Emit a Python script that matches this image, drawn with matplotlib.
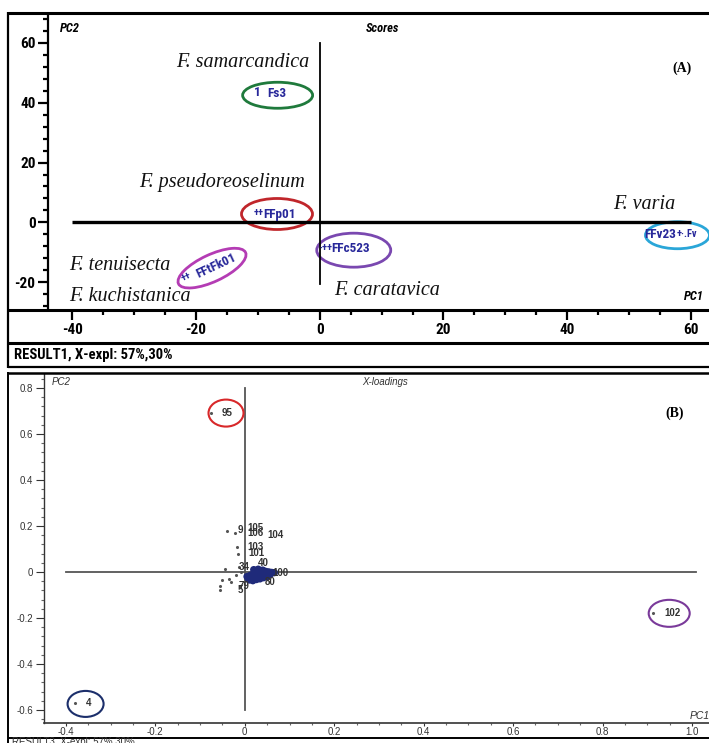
import matplotlib
matplotlib.use('Agg')
import matplotlib.pyplot as plt
from matplotlib.lines import Line2D
from matplotlib.patches import Ellipse
import matplotlib.transforms as mtransforms
from matplotlib.ticker import MultipleLocator

plt.rcParams['axes.unicode_minus'] = False

# ---------------- data: panel A (scores) ----------------
xticks_A = [-40, -20, 0, 20, 40, 60]
yticks_A = [-20, 0, 20, 40, 60]

samarc_x = [-10.0, -7.0]
samarc_y = [43.5, 43.0]
samarc_lab = ['1', 'Fs3']

pseudo_x = [-9.9, -6.5]
pseudo_y = [3.0, 2.6]
pseudo_lab = ['++', 'FFp01']

tenu_x = [-21.6, -16.8]
tenu_y = [-18.3, -14.6]
tenu_lab = ['++', 'FFtFk01']

carat_x = [1.0, 5.0]
carat_y = [-8.7, -8.9]
carat_lab = ['·++', 'FFc523']

varia_x = [55.0, 59.3]
varia_y = [-4.0, -4.0]
varia_lab = ['FFv23', '+·.Fv']

species_names = ['F. samarcandica', 'F. pseudoreoselinum', 'F. tenuisecta',
                 'F. kuchistanica', 'F. caratavica', 'F. varia']

# ---------------- data: panel B (loadings) ----------------
xticks_B = [-0.4, -0.2, 0, 0.2, 0.4, 0.6, 0.8, 1.0]
yticks_B = [-0.6, -0.4, -0.2, 0, 0.2, 0.4, 0.6, 0.8]

outlier_x = [-0.076, 0.913, -0.380]
outlier_y = [0.690, -0.178, -0.570]
outlier_lab = ['95', '102', '4']

clab_x = [-0.009, 0.024, 0.024, 0.069, 0.024, 0.027, 0.042, 0.080, 0.056, -0.002, -0.002, -0.009]
clab_y = [0.183, 0.191, 0.170, 0.161, 0.109, 0.083, 0.039, -0.004, -0.043, 0.022, -0.061, -0.078]
clab_lab = ['9', '105', '106', '104', '103', '101', '40', '100', '80', '34', '79', '5']

blob_x = [0.005, 0.012, 0.018, 0.024, 0.030, 0.036, 0.042, 0.048, 0.054, 0.060, 0.066,
          0.008, 0.015, 0.022, 0.029, 0.036, 0.043, 0.050, 0.057,
          0.010, 0.018, 0.026, 0.034, 0.042, 0.050, 0.020, 0.030, 0.040]
blob_y = [-0.020, -0.015, -0.010, -0.005, 0.000, 0.003, 0.005, 0.002, 0.000, -0.002, -0.003,
          -0.030, -0.028, -0.022, -0.018, -0.012, -0.010, -0.008, -0.010,
          -0.035, -0.038, -0.033, -0.030, -0.025, -0.020, 0.010, 0.012, 0.008]

small_x = [-0.040, -0.022, -0.018, -0.015, -0.012, -0.045, -0.050, -0.055, -0.056,
           -0.035, -0.030, -0.020, -0.010, -0.008]
small_y = [0.180, 0.170, 0.110, 0.080, 0.020, 0.015, -0.035, -0.060, -0.078,
           -0.030, -0.045, -0.015, -0.060, 0.000]

# ---------------- figure ----------------
W, H = 709, 743
fig = plt.figure(figsize=(W / 100, H / 100), dpi=100)


def fx(x):
    return x / W


def fy(y):
    return 1 - y / H


def hline(y, x0, x1, lw, color='black'):
    fig.add_artist(Line2D([fx(x0), fx(x1)], [fy(y), fy(y)], lw=lw, color=color,
                          transform=fig.transFigure, solid_capstyle='butt'))


def vline(x, y0, y1, lw, color='black'):
    fig.add_artist(Line2D([fx(x), fx(x)], [fy(y0), fy(y1)], lw=lw, color=color,
                          transform=fig.transFigure, solid_capstyle='butt'))


def px_ellipse(ax, cx, cy, w, h, angle, color, lw):
    tr = mtransforms.ScaledTranslation(cx, cy, ax.transData)
    e = Ellipse((0, 0), w, h, angle=angle, fill=False, edgecolor=color, lw=lw,
                transform=mtransforms.IdentityTransform() + tr, clip_on=False)
    ax.add_artist(e)


NARROW = ['Liberation Sans Narrow', 'Roboto Condensed', 'DejaVu Sans Condensed', 'DejaVu Sans']
SERIF = ['Liberation Serif', 'DejaVu Serif']
SANS = ['Liberation Sans', 'DejaVu Sans']
BLUE = '#28289a'

# ---------- panel A frame ----------
hline(13, 8, 709, 2.2)
vline(8, 12, 368, 1.6)
hline(310, 8, 709, 2.2)
hline(343, 8, 709, 2.2)
hline(367, 8, 709, 1.6)

axA = fig.add_axes([fx(48), fy(310), fx(709) - fx(48), fy(16) - fy(310)])
axA.set_xlim(-43.9, 62.9)
axA.set_ylim(-29.3, 69.0)
for s in ['top', 'right', 'bottom']:
    axA.spines[s].set_visible(False)
axA.spines['left'].set_linewidth(1.6)
axA.set_xticks(xticks_A)
axA.set_yticks(yticks_A)
axA.xaxis.set_minor_locator(MultipleLocator(5))
axA.yaxis.set_minor_locator(MultipleLocator(4))
axA.tick_params(axis='both', which='major', length=7, width=1.6, labelsize=11, pad=2)
axA.tick_params(axis='both', which='minor', length=3.5, width=1.6)
axA.tick_params(axis='x', which='both', pad=2)
for lab in axA.get_xticklabels() + axA.get_yticklabels():
    lab.set_family(NARROW)
    lab.set_fontweight('bold')
    lab.set_fontstretch('condensed')
axA.patch.set_alpha(0)

# crosshair
axA.plot([-40, 60], [0, 0], color='black', lw=2.4, solid_capstyle='butt', zorder=2)
axA.plot([0, 0], [60, -20.5], color='black', lw=1.3, zorder=2)

# sample labels
for xs, ys, labs, rot in [(samarc_x, samarc_y, samarc_lab, 0), (pseudo_x, pseudo_y, pseudo_lab, 0),
                          (tenu_x, tenu_y, tenu_lab, 25), (carat_x, carat_y, carat_lab, 0),
                          (varia_x, varia_y, varia_lab, 0)]:
    for x, y, t in zip(xs, ys, labs):
        axA.text(x, y, t, color=BLUE, fontsize=9.5 if '+' not in t else 7.5, family=NARROW,
                 fontweight='bold', fontstretch='condensed', ha='center', va='center',
                 rotation=rot, zorder=4)

# ellipses
px_ellipse(axA, -6.8, 42.5, 70, 26, 0, '#1f7a3c', 2.0)
px_ellipse(axA, -6.9, 2.8, 71, 31, 0, '#c0262b', 2.0)
px_ellipse(axA, -17.4, -15.3, 74, 27, 25, '#b43cb4', 2.0)
px_ellipse(axA, 5.5, -9.3, 74, 34, 0, '#7a48b0', 2.0)
px_ellipse(axA, 57.8, -4.3, 64, 27, 0, '#2aa6d8', 2.0)

# species names
sp_pos = [(-1.6, 53.3, 'right'), (-2.4, 13.3, 'right'), (-40.5, -14.3, 'left'),
          (-40.5, -24.7, 'left'), (2.3, -22.7, 'left'), (47.4, 6.0, 'left')]
for name, (x, y, ha) in zip(species_names, sp_pos):
    axA.text(x, y, name, family=SERIF, style='italic', fontsize=14.5, ha=ha, va='center',
             color='#111111')

fig.text(fx(60), fy(28), 'PC2', family=NARROW, style='italic', fontweight='bold',
         fontstretch='condensed', fontsize=9, va='center')
fig.text(fx(366), fy(28), 'Scores', family=NARROW, style='italic', fontweight='bold',
         fontstretch='condensed', fontsize=9, va='center')
fig.text(fx(684), fy(297), 'PC1', family=NARROW, style='italic', fontweight='bold',
         fontstretch='condensed', fontsize=9, va='center')
fig.text(fx(682), fy(68), '(A)', family=SERIF, fontweight='bold', fontsize=10,
         ha='center', va='center')
fig.text(fx(14), fy(355), 'RESULT1, X-expl: 57%,30%', family=NARROW, fontweight='bold',
         fontstretch='condensed', fontsize=10.5, va='center')

# ---------- panel B frame ----------
hline(373, 8, 709, 1.8)
vline(8, 372, 743, 1.4)
hline(738, 8, 709, 1.4)

axB = fig.add_axes([fx(44), fy(723), fx(709) - fx(44), fy(374) - fy(723)])
axB.set_xlim(-0.449, 1.038)
axB.set_ylim(-0.657, 0.861)
for s in ['top', 'right']:
    axB.spines[s].set_visible(False)
axB.spines['left'].set_linewidth(1.0)
axB.spines['bottom'].set_linewidth(1.2)
axB.spines['left'].set_color('#333333')
axB.spines['bottom'].set_color('#333333')
axB.set_xticks(xticks_B)
axB.set_yticks(yticks_B)
axB.set_xticklabels(['%.1f' % v if v != 0 else '0' for v in xticks_B])
axB.set_yticklabels(['%.1f' % v if v != 0 else '0' for v in yticks_B])
axB.xaxis.set_minor_locator(MultipleLocator(0.05))
axB.yaxis.set_minor_locator(MultipleLocator(0.04))
axB.tick_params(axis='both', which='major', length=6, width=0.8, labelsize=7,
                colors='#333333', pad=2)
axB.tick_params(axis='both', which='minor', length=2.5, width=0.8, colors='#666666')
axB.tick_params(axis='x', which='major', length=2.5, pad=0.5)
axB.tick_params(axis='x', which='minor', length=1.5)
for lab in axB.get_xticklabels() + axB.get_yticklabels():
    lab.set_family(SANS)
axB.patch.set_alpha(0)

axB.plot([-0.4, 1.01], [0, 0], color='#555555', lw=1.3, zorder=1)
axB.plot([0, 0], [0.8, -0.6], color='#555555', lw=1.3, zorder=1)

axB.scatter(small_x, small_y, s=1.5, color='#555555', zorder=2)
axB.scatter(outlier_x, outlier_y, s=1.5, color='#555555', zorder=2)
axB.scatter(blob_x, blob_y, s=28, color='#1f2a7a', edgecolors='none', zorder=3)
for x, y, t in zip(outlier_x, outlier_y, outlier_lab):
    axB.annotate(t, (x, y), xytext=(8, 0), textcoords='offset points', family=SANS,
                 fontsize=7, fontweight='bold', color='#333333', va='center', ha='left')
for x, y, t in zip(clab_x, clab_y, clab_lab):
    axB.text(x, y, t, family=SANS, fontsize=7, fontweight='bold', color='#333333',
             ha='center', va='center', zorder=4)

px_ellipse(axB, -0.042, 0.691, 35, 27, 0, '#d8282a', 1.5)
px_ellipse(axB, 0.949, -0.180, 41, 27, 0, '#7a3a9a', 1.5)
px_ellipse(axB, -0.356, -0.574, 36, 26, 0, '#1c2f6b', 1.5)

fig.text(fx(52), fy(382), 'PC2', family=SANS, style='italic', fontsize=7, va='center',
         color='#333333')
fig.text(fx(362), fy(382), 'X-loadings', family=SANS, style='italic', fontsize=7,
         va='center', color='#333333')
fig.text(fx(690), fy(716), 'PC1', family=SANS, style='italic', fontsize=7.5,
         va='center', color='#333333')
fig.text(fx(675), fy(413), '(B)', family=SERIF, fontweight='bold', fontsize=10,
         ha='center', va='center')
fig.text(fx(12), fy(742), 'RESULT3, X-expl: 57%,30%', family=SANS, fontsize=7,
         va='center', color='#333333')

fig.savefig('out.png', dpi=100)
